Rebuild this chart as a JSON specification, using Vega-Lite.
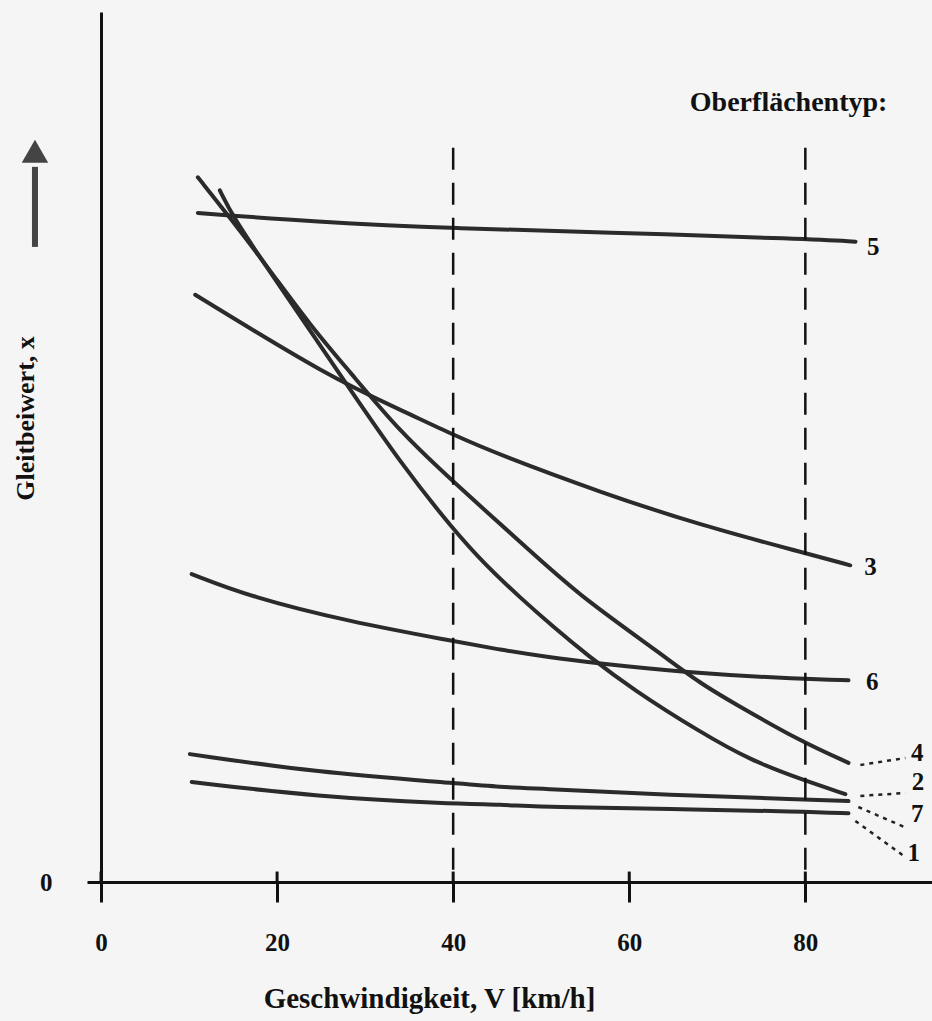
{
  "$schema": "https://vega.github.io/schema/vega-lite/v6.json",
  "width": 832,
  "height": 870,
  "autosize": "none",
  "padding": {"left": 101, "top": 12, "right": 0, "bottom": 139},
  "background": "#f5f5f5",
  "config": {"view": {"stroke": null}, "font": "Liberation Serif"},
  "datasets": {
    "curves": [
      {"typ": "5", "V": 11.0, "x": 0.769}, {"typ": "5", "V": 24.1, "x": 0.759}, {"typ": "5", "V": 40.5, "x": 0.751}, {"typ": "5", "V": 56.7, "x": 0.747}, {"typ": "5", "V": 80.6, "x": 0.739}, {"typ": "5", "V": 85.7, "x": 0.736},
      {"typ": "3", "V": 10.7, "x": 0.675}, {"typ": "3", "V": 26.0, "x": 0.580}, {"typ": "3", "V": 34.0, "x": 0.543}, {"typ": "3", "V": 40.2, "x": 0.513}, {"typ": "3", "V": 45.3, "x": 0.491}, {"typ": "3", "V": 56.7, "x": 0.448}, {"typ": "3", "V": 68.1, "x": 0.410}, {"typ": "3", "V": 80.0, "x": 0.378}, {"typ": "3", "V": 85.1, "x": 0.364},
      {"typ": "4", "V": 11.0, "x": 0.810}, {"typ": "4", "V": 14.7, "x": 0.763}, {"typ": "4", "V": 19.2, "x": 0.703}, {"typ": "4", "V": 23.75, "x": 0.640}, {"typ": "4", "V": 28.3, "x": 0.586}, {"typ": "4", "V": 34.0, "x": 0.517}, {"typ": "4", "V": 40.0, "x": 0.460}, {"typ": "4", "V": 49.9, "x": 0.370}, {"typ": "4", "V": 54.8, "x": 0.326}, {"typ": "4", "V": 63.5, "x": 0.263}, {"typ": "4", "V": 68.1, "x": 0.228}, {"typ": "4", "V": 71.8, "x": 0.206}, {"typ": "4", "V": 79.4, "x": 0.162}, {"typ": "4", "V": 84.9, "x": 0.137},
      {"typ": "2", "V": 13.5, "x": 0.795}, {"typ": "2", "V": 14.9, "x": 0.766}, {"typ": "2", "V": 19.2, "x": 0.701}, {"typ": "2", "V": 23.75, "x": 0.634}, {"typ": "2", "V": 28.3, "x": 0.566}, {"typ": "2", "V": 34.0, "x": 0.482}, {"typ": "2", "V": 40.0, "x": 0.405}, {"typ": "2", "V": 43.9, "x": 0.362}, {"typ": "2", "V": 47.6, "x": 0.327}, {"typ": "2", "V": 51.4, "x": 0.293}, {"typ": "2", "V": 55.2, "x": 0.261}, {"typ": "2", "V": 60.45, "x": 0.221}, {"typ": "2", "V": 68.1, "x": 0.172}, {"typ": "2", "V": 73.75, "x": 0.140}, {"typ": "2", "V": 79.8, "x": 0.117}, {"typ": "2", "V": 84.55, "x": 0.101},
      {"typ": "6", "V": 10.3, "x": 0.354}, {"typ": "6", "V": 16.9, "x": 0.328}, {"typ": "6", "V": 28.3, "x": 0.299}, {"typ": "6", "V": 40.0, "x": 0.277}, {"typ": "6", "V": 45.3, "x": 0.267}, {"typ": "6", "V": 51.0, "x": 0.258}, {"typ": "6", "V": 55.9, "x": 0.252}, {"typ": "6", "V": 66.1, "x": 0.241}, {"typ": "6", "V": 79.8, "x": 0.233}, {"typ": "6", "V": 84.9, "x": 0.232},
      {"typ": "7", "V": 10.1, "x": 0.147}, {"typ": "7", "V": 24.55, "x": 0.126}, {"typ": "7", "V": 39.7, "x": 0.114}, {"typ": "7", "V": 45.3, "x": 0.109}, {"typ": "7", "V": 51.0, "x": 0.107}, {"typ": "7", "V": 64.3, "x": 0.100}, {"typ": "7", "V": 79.8, "x": 0.095}, {"typ": "7", "V": 84.9, "x": 0.093},
      {"typ": "1", "V": 10.3, "x": 0.115}, {"typ": "1", "V": 24.55, "x": 0.098}, {"typ": "1", "V": 39.7, "x": 0.090}, {"typ": "1", "V": 45.3, "x": 0.089}, {"typ": "1", "V": 51.0, "x": 0.086}, {"typ": "1", "V": 64.3, "x": 0.084}, {"typ": "1", "V": 79.8, "x": 0.081}, {"typ": "1", "V": 84.9, "x": 0.079}
    ],
    "labels": [
      {"typ": "5", "V": 87.7, "x": 0.730},
      {"typ": "3", "V": 87.4, "x": 0.362},
      {"typ": "6", "V": 87.6, "x": 0.230},
      {"typ": "4", "V": 92.7, "x": 0.148},
      {"typ": "2", "V": 92.8, "x": 0.115},
      {"typ": "7", "V": 92.7, "x": 0.078},
      {"typ": "1", "V": 92.3, "x": 0.033}
    ],
    "leaders": [
      {"typ": "4", "V": 86.25, "x": 0.1345, "V2": 91.36, "x2": 0.1425},
      {"typ": "2", "V": 86.25, "x": 0.0989, "V2": 91.36, "x2": 0.1023},
      {"typ": "7", "V": 86.02, "x": 0.0862, "V2": 91.25, "x2": 0.0632},
      {"typ": "1", "V": 85.68, "x": 0.0701, "V2": 91.36, "x2": 0.0287}
    ],
    "marks": [
      {"V": 40, "lo": 0.014, "hi": 0.847},
      {"V": 80, "lo": 0.014, "hi": 0.847}
    ],
    "ticks": [{"V": 0}, {"V": 20}, {"V": 40}, {"V": 60}, {"V": 80}],
    "heading": [{"V": 78.1, "x": 0.895, "text": "Oberflächentyp:"}],
    "arrow": [{"V": -7.5, "lo": 0.730, "hi": 0.822, "tip": 0.840}]
  },
  "layer": [
    {
      "data": {"name": "curves"},
      "mark": {"type": "line", "color": "#2b2b2b", "strokeWidth": 4, "interpolate": "basis", "strokeCap": "round"},
      "encoding": {
        "x": {
          "field": "V", "type": "quantitative",
          "scale": {"domain": [0, 94.5], "nice": false, "zero": false},
          "axis": {
            "values": [0, 20, 40, 60, 80], "grid": false, "labelFlush": false,
            "domainColor": "#111", "domainWidth": 3, "tickColor": "#111", "tickWidth": 3, "tickSize": 20,
            "labelFont": "Liberation Serif", "labelFontWeight": "bold", "labelFontSize": 25, "labelColor": "#111",
            "labelBaseline": "middle", "labelPadding": 40,
            "title": "Geschwindigkeit, V [km/h]", "titleFont": "Liberation Serif", "titleFontWeight": "bold", "titleFontSize": 29, "titleColor": "#111",
            "titleX": 328, "titleY": 116, "titleAlign": "center", "titleBaseline": "middle"
          }
        },
        "y": {
          "field": "x", "type": "quantitative",
          "scale": {"domain": [0, 1], "nice": false, "zero": false},
          "axis": {
            "values": [0], "format": ".0f", "grid": false,
            "domainColor": "#111", "domainWidth": 3, "tickColor": "#111", "tickWidth": 3, "tickSize": 14,
            "labelFont": "Liberation Serif", "labelFontWeight": "bold", "labelFontSize": 25, "labelColor": "#111", "labelPadding": 35,
            "title": "Gleitbeiwert, x", "titleFont": "Liberation Serif", "titleFontWeight": "bold", "titleFontSize": 26, "titleColor": "#111",
            "titleX": -76, "titleY": 406, "titleAngle": -90, "titleAlign": "center", "titleBaseline": "middle"
          }
        },
        "detail": {"field": "typ", "type": "nominal"},
        "order": {"field": "V", "type": "quantitative"}
      }
    },
    {
      "data": {"name": "ticks"},
      "mark": {"type": "rule", "color": "#111", "strokeWidth": 3},
      "encoding": {
        "x": {"field": "V", "type": "quantitative"},
        "y": {"datum": 0},
        "y2": {"datum": 0.012}
      }
    },
    {
      "data": {"name": "marks"},
      "mark": {"type": "rule", "color": "#111", "strokeWidth": 2.5, "strokeDash": [22, 13]},
      "encoding": {
        "x": {"field": "V", "type": "quantitative"},
        "y": {"field": "lo", "type": "quantitative"},
        "y2": {"field": "hi"}
      }
    },
    {
      "data": {"name": "leaders"},
      "mark": {"type": "rule", "color": "#222", "strokeWidth": 2.5, "strokeDash": [4, 5]},
      "encoding": {
        "x": {"field": "V", "type": "quantitative"},
        "y": {"field": "x", "type": "quantitative"},
        "x2": {"field": "V2"},
        "y2": {"field": "x2"}
      }
    },
    {
      "data": {"name": "labels"},
      "mark": {"type": "text", "font": "Liberation Serif", "fontWeight": "bold", "fontSize": 25, "color": "#111", "align": "center", "baseline": "middle"},
      "encoding": {
        "x": {"field": "V", "type": "quantitative"},
        "y": {"field": "x", "type": "quantitative"},
        "text": {"field": "typ"}
      }
    },
    {
      "data": {"name": "heading"},
      "mark": {"type": "text", "font": "Liberation Serif", "fontWeight": "bold", "fontSize": 28, "color": "#111", "align": "center", "baseline": "middle"},
      "encoding": {
        "x": {"field": "V", "type": "quantitative"},
        "y": {"field": "x", "type": "quantitative"},
        "text": {"field": "text"}
      }
    },
    {
      "data": {"name": "arrow"},
      "mark": {"type": "rule", "color": "#444", "strokeWidth": 6},
      "encoding": {
        "x": {"field": "V", "type": "quantitative"},
        "y": {"field": "lo", "type": "quantitative"},
        "y2": {"field": "hi"}
      }
    },
    {
      "data": {"name": "arrow"},
      "mark": {"type": "point", "shape": "triangle-up", "filled": true, "color": "#444", "size": 700, "opacity": 1},
      "encoding": {
        "x": {"field": "V", "type": "quantitative"},
        "y": {"field": "tip", "type": "quantitative"}
      }
    }
  ]
}
